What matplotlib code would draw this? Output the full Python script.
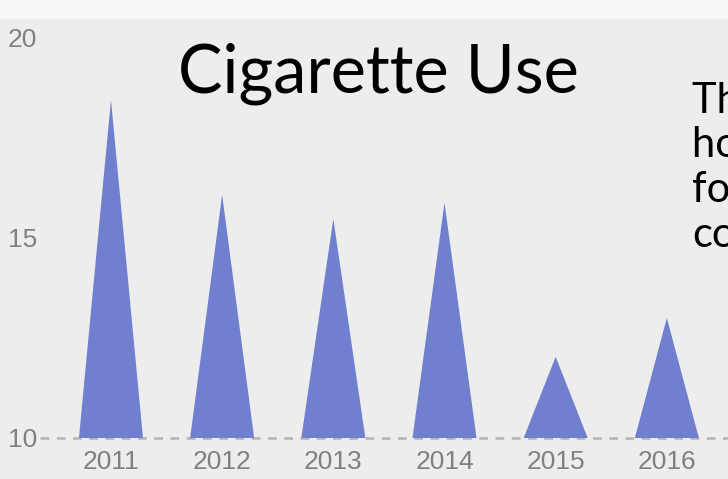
import matplotlib.pyplot as plt
import numpy as np

plt.rcParams["font.family"] = ["Liberation Sans", "DejaVu Sans"]

years = ["2011", "2012", "2013", "2014", "2015", "2016"]
values = [18.45, 16.08, 15.48, 15.88, 12.03, 13.0]
y_ticks = [10, 15, 20]

bg = "#ededed"
tri_color = "#7080cf"

fig = plt.figure(figsize=(7.28, 4.79), dpi=100)
fig.patch.set_facecolor(bg)
# light strip at the very top
fig.add_artist(plt.Rectangle((0, 1 - 18 / 479), 1, 18 / 479, transform=fig.transFigure,
                             color="#f7f7f7", zorder=0))

ax = fig.add_axes([0.055, 0.0856, 0.945, 0.8351])
ax.set_facecolor(bg)
ax.set_xlim(-0.638, 5.55)
ax.set_ylim(10, 20)

half = 0.288
x = np.arange(len(years))
for xi, v in zip(x, values):
    ax.fill([xi - half, xi, xi + half], [10, v, 10], color=tri_color, lw=0, zorder=2)

ax.axhline(10, color="#b3b3b3", lw=1.8, ls=(0, (3.5, 3)), zorder=1, clip_on=False)

for s in ax.spines.values():
    s.set_visible(False)
ax.set_xticks(x)
ax.set_xticklabels(years)
ax.set_yticks(y_ticks)
ax.tick_params(length=0, colors="#808080", labelsize=19)
ax.tick_params(axis="x", pad=9)
ax.tick_params(axis="y", pad=2)

fig.text(378 / 728, 1 - 74 / 479, "Cigarette Use", ha="center", va="center",
         fontsize=48, fontfamily="Lato", fontweight="normal", color="black")

fig.text(692 / 728, 1 - 247 / 479,
         "The rate\nhow many\nfor this\ncontinues",
         ha="left", va="baseline", fontsize=30, fontfamily="Lato",
         color="black", linespacing=1.22)

fig.savefig("out.png", dpi=100, facecolor=bg)
